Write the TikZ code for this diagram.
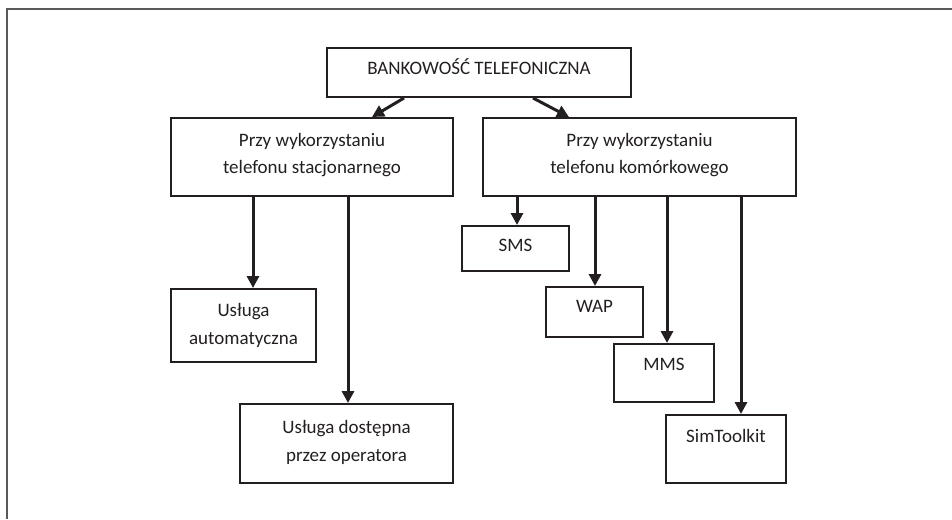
\documentclass[tikz,border=0pt]{standalone}
\usepackage{fontspec}
\setmainfont{Carlito}
\usetikzlibrary{arrows.meta}
\definecolor{ink}{HTML}{231F20}
\begin{document}
\begin{tikzpicture}[x=0.75pt,y=-0.75pt,
  box/.style={draw=ink,line width=1.5pt,rectangle,inner sep=0pt,align=center,
    text=ink,font=\fontsize{14.25pt}{20.5pt}\selectfont},
  one/.style={text height=9.2pt,text depth=#1},
  arr/.style={draw=ink,line width=2.25pt,-{Triangle[length=9pt,width=9pt]}},
  frame/.style={draw=black!65,line width=1.1pt}]
\useasboundingbox (0,0) rectangle (952,519);
\coordinate (fa) at (7,519);
\coordinate (fb) at (7,9);
\coordinate (fc) at (952,9);
\draw[frame] (fa) -- (fb) -- (fc);

\node[box,one=6.75pt,minimum width=228pt,minimum height=36.75pt] (top) at (479,72.5) {BANKOWOŚĆ TELEFONICZNA};
\node[box,minimum width=211.5pt,minimum height=58.5pt] (stac) at (312,157) {Przy wykorzystaniu\\telefonu stacjonarnego\rule[-5.25pt]{0pt}{0pt}};
\node[box,minimum width=234.75pt,minimum height=58.5pt] (kom) at (639.5,157) {Przy wykorzystaniu\\telefonu komórkowego\rule[-5.25pt]{0pt}{0pt}};
\node[box,minimum width=108.75pt,minimum height=54.75pt] (auto) at (243.5,325.5) {Usługa\\automatyczna};
\node[box,minimum width=159.75pt,minimum height=59.25pt] (oper) at (346.5,443.5) {Usługa dostępna\\przez operatora\rule[-4pt]{0pt}{0pt}};
\node[box,one=5.25pt,minimum width=80.25pt,minimum height=33.75pt] (sms) at (515.5,248.5) {SMS};
\node[box,one=9pt,minimum width=72.75pt,minimum height=37.5pt] (wap) at (594.5,312) {WAP};
\node[box,one=13.5pt,minimum width=75pt,minimum height=43.5pt] (mms) at (664,373) {MMS};
\node[box,one=19.5pt,minimum width=90pt,minimum height=51pt] (sim) at (726,449) {SimToolkit};

\draw[arr] (404,0 |- top.south) -- (372,0 |- stac.north);
\draw[arr] (533,0 |- top.south) -- (569,0 |- kom.north);
\draw[arr] (253,0 |- stac.south) -- (253,0 |- auto.north);
\draw[arr] (348,0 |- stac.south) -- (348,0 |- oper.north);
\draw[arr] (517,0 |- kom.south) -- (517,0 |- sms.north);
\draw[arr] (595,0 |- kom.south) -- (595,0 |- wap.north);
\draw[arr] (667,0 |- kom.south) -- (667,0 |- mms.north);
\draw[arr] (741,0 |- kom.south) -- (741,0 |- sim.north);
\end{tikzpicture}
\end{document}
